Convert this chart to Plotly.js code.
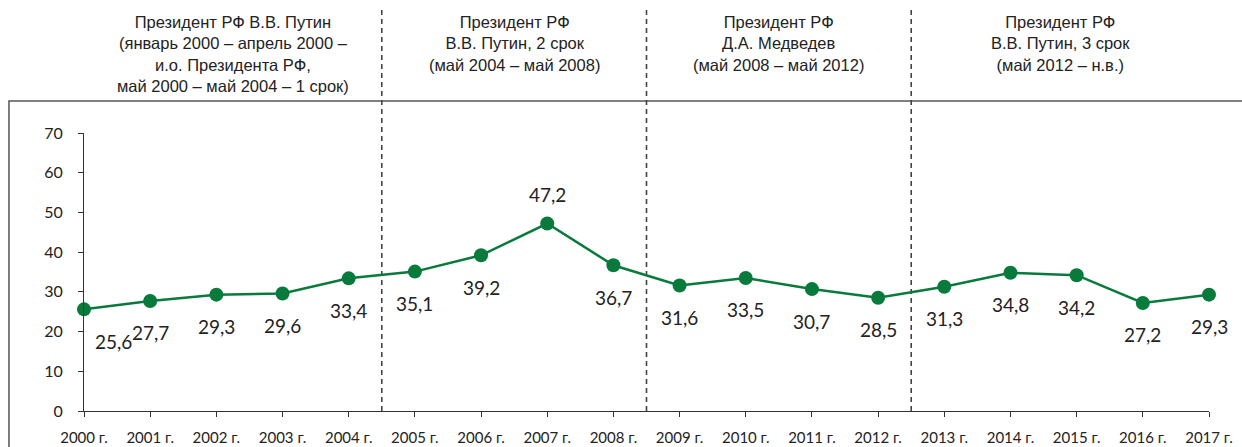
<!DOCTYPE html>
<html>
<head>
<meta charset="utf-8">
<script src="https://cdn.plot.ly/plotly-3.0.1.min.js"></script>
<style>html,body{margin:0;padding:0;background:#fff;}#chart{width:1242px;height:447px;}</style>
</head>
<body>
<div id="chart"></div>
<script>
const years = [2000,2001,2002,2003,2004,2005,2006,2007,2008,2009,2010,2011,2012,2013,2014,2015,2016,2017];
const values = [25.6,27.7,29.3,29.6,33.4,35.1,39.2,47.2,36.7,31.6,33.5,30.7,28.5,31.3,34.8,34.2,27.2,29.3];
const tickLabels = years.map(y => y + ' г.');
const periodBounds = [2000, 2004.5, 2008.5, 2012.5, 2017];
const periodLabels = [
  'Президент РФ В.В. Путин<br>(январь 2000 – апрель 2000 –<br>и.о. Президента РФ,<br>май 2000 – май 2004 – 1 срок)',
  'Президент РФ<br>В.В. Путин, 2 срок<br>(май 2004 – май 2008)',
  'Президент РФ<br>Д.А. Медведев<br>(май 2008 – май 2012)',
  'Президент РФ<br>В.В. Путин, 3 срок<br>(май 2012 – н.в.)'
];

const green = '#087a3c';
const fmt = v => v.toFixed(1).replace('.', ',');
const maxV = Math.max(...values);

const trace = {
  x: years, y: values, type: 'scatter', mode: 'lines+markers',
  line: {color: green, width: 2.5},
  marker: {color: green, size: 14},
  hoverinfo: 'none', cliponaxis: false
};

const annotations = [];
values.forEach((v, i) => {
  const above = v === maxV;
  annotations.push({
    x: years[i], y: v, xref: 'x', yref: 'y', text: fmt(v), showarrow: false,
    xanchor: 'center', yanchor: 'middle',
    yshift: above ? 29 : -32, xshift: i === 0 ? 29 : 0,
    font: {family: 'Lato, sans-serif', size: 19, color: '#222'}
  });
});
for (let g = 0; g < periodLabels.length; g++) {
  annotations.push({
    x: (periodBounds[g] + periodBounds[g+1]) / 2, y: 1.438, xref: 'x', yref: 'paper',
    text: periodLabels[g], showarrow: false, xanchor: 'center', yanchor: 'top',
    align: 'center',
    font: {family: '"Liberation Sans", Arial, sans-serif', size: 16.5, color: '#222'}
  });
}

const shapes = [{
  type: 'rect', xref: 'paper', yref: 'paper',
  x0: -0.0667, x1: 1.2, y0: -0.6, y1: 1.1151,
  line: {color: '#555', width: 1.5}, fillcolor: 'rgba(0,0,0,0)', layer: 'below'
}];
periodBounds.slice(1, -1).forEach(b => {
  shapes.push({
    type: 'line', xref: 'x', yref: 'paper', x0: b, x1: b, y0: 0, y1: 1.4424,
    line: {color: '#444', width: 1.6, dash: '5px,4px'}, layer: 'below'
  });
});

const layout = {
  width: 1242, height: 447,
  margin: {l: 84, r: 33, t: 133, b: 36},
  paper_bgcolor: '#fff', plot_bgcolor: '#fff',
  showlegend: false,
  xaxis: {
    range: [2000, 2017], tickmode: 'array', tickvals: years, ticktext: tickLabels,
    showgrid: false, zeroline: false, showline: true, linecolor: '#333', linewidth: 1,
    ticks: 'outside', ticklen: 5, tickcolor: '#333', ticklabelstandoff: 8,
    tickfont: {family: 'Lato, sans-serif', size: 15, color: '#222'}, fixedrange: true
  },
  yaxis: {
    range: [0, 70], tickmode: 'array', tickvals: [0,10,20,30,40,50,60,70],
    showgrid: false, zeroline: false, showline: true, linecolor: '#333', linewidth: 1,
    ticks: 'outside', ticklen: 5, tickcolor: '#333', ticklabelstandoff: 12,
    tickfont: {family: 'Lato, sans-serif', size: 16, color: '#222'}, fixedrange: true
  },
  annotations: annotations,
  shapes: shapes
};

Plotly.newPlot('chart', [trace], layout, {displayModeBar: false, staticPlot: true});
</script>
</body>
</html>
